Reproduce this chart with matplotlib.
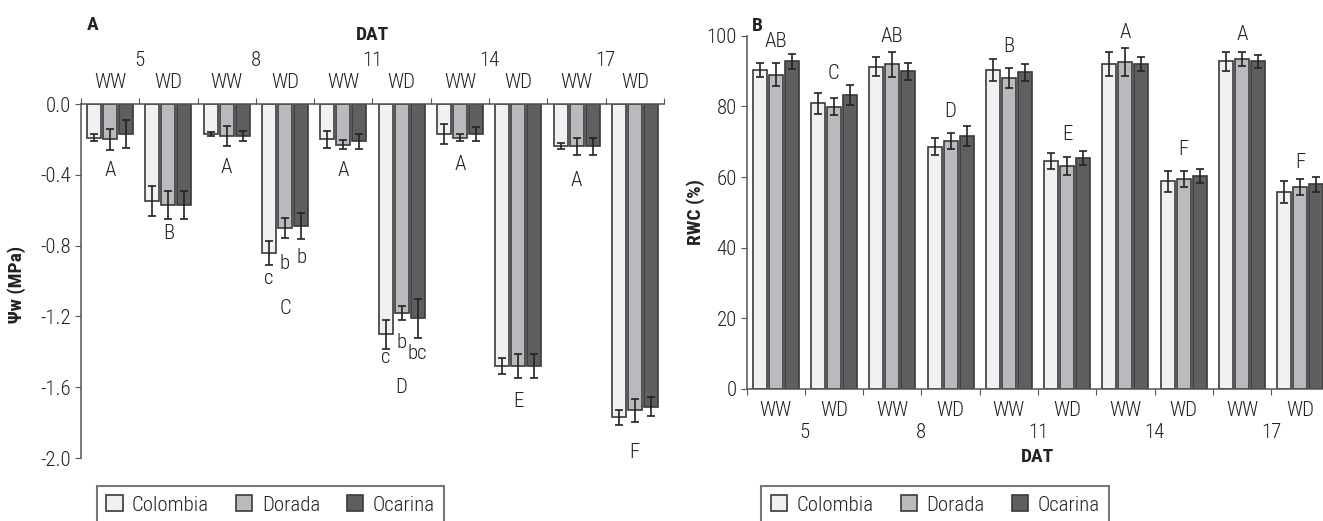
import numpy as np
import matplotlib
matplotlib.use("Agg")
import matplotlib.pyplot as plt
from matplotlib.patches import Patch
from matplotlib.ticker import FixedLocator, FuncFormatter

plt.rcParams['font.family'] = ['Roboto Condensed', 'DejaVu Sans']

# --- data ---
cultivars = ["Colombia", "Dorada", "Ocarina"]
colors = ["#f0f1f3", "#b9babe", "#5f5f61"]
treatments = ["WW", "WD"] * 5
days = ["5", "8", "11", "14", "17"]

# Panel A: leaf water potential (MPa)
psi_colombia = [-0.19, -0.55, -0.17, -0.84, -0.20, -1.30, -0.17, -1.48, -0.24, -1.77]
psi_dorada = [-0.20, -0.57, -0.18, -0.70, -0.23, -1.18, -0.19, -1.48, -0.24, -1.73]
psi_ocarina = [-0.17, -0.57, -0.18, -0.69, -0.21, -1.21, -0.17, -1.48, -0.24, -1.71]
psi_err_colombia = [0.02, 0.085, 0.013, 0.067, 0.05, 0.082, 0.056, 0.045, 0.017, 0.041]
psi_err_dorada = [0.06, 0.08, 0.055, 0.057, 0.026, 0.04, 0.021, 0.066, 0.049, 0.065]
psi_err_ocarina = [0.08, 0.08, 0.03, 0.072, 0.042, 0.11, 0.038, 0.066, 0.049, 0.054]
psi_group_letters = ["A", "B", "A", "C", "A", "D", "A", "E", "A", "F"]
psi_group_letter_y = [-0.373, -0.734, -0.357, -1.158, -0.373, -1.60, -0.339, -1.68, -0.43, -1.97]
# lowercase letters: (group, cultivar index, text, y)
psi_bar_letters = [(3, 0, "c", -0.985), (3, 1, "b", -0.90), (3, 2, "b", -0.87),
                   (5, 0, "c", -1.435), (5, 1, "b", -1.345), (5, 2, "bc", -1.41)]

# Panel B: relative water content (%)
rwc_colombia = [90.3, 80.9, 91.2, 68.6, 90.3, 64.6, 92.0, 58.8, 92.7, 55.8]
rwc_dorada = [89.0, 79.9, 91.9, 70.1, 88.0, 63.1, 92.5, 59.5, 93.4, 57.2]
rwc_ocarina = [92.7, 83.2, 89.9, 71.6, 89.6, 65.4, 92.0, 60.3, 92.7, 58.0]
rwc_err_colombia = [1.9, 3.0, 2.7, 2.4, 3.1, 2.3, 3.5, 3.0, 2.8, 3.1]
rwc_err_dorada = [3.2, 2.4, 3.6, 2.3, 2.9, 2.5, 4.0, 2.2, 2.0, 2.2]
rwc_err_ocarina = [2.0, 2.9, 2.4, 2.7, 2.3, 2.0, 1.9, 1.9, 1.9, 2.1]
rwc_group_letters = ["AB", "C", "AB", "D", "B", "E", "A", "F", "A", "F"]
rwc_group_letter_y = [98.3, 89.4, 99.7, 78.6, 96.9, 72.0, 101.0, 67.8, 100.2, 64.1]

TXT = "#222222"
EDGE = "#3a3a3a"
FS = 15
LW = 300  # light text weight, like the condensed face of the original
n = len(treatments)
centers = np.arange(n) + 0.5
offsets = [-0.275, 0.0, 0.275]
bw = 0.24


def draw_bars(ax, series, errs):
    for k in range(3):
        ax.bar(centers + offsets[k], series[k], width=bw, color=colors[k],
               edgecolor=EDGE, linewidth=1.2, zorder=2)
        ax.errorbar(centers + offsets[k], series[k], yerr=errs[k], fmt="none",
                    ecolor="#222222", elinewidth=1.2, capsize=2.6, capthick=1.2, zorder=3)


def cat_labels(ax, y_wd, y_day, y_dat):
    tr = ax.get_xaxis_transform()
    for i, t in enumerate(treatments):
        ax.text(centers[i], y_wd, t, transform=tr, ha="center", va="center",
                fontsize=FS, fontweight=LW, color=TXT, clip_on=False)
    for j, d in enumerate(days):
        ax.text(2 * j + 1, y_day, d, transform=tr, ha="center", va="center",
                fontsize=FS, fontweight=LW, color=TXT, clip_on=False)
    ax.text(5, y_dat, "DAT", transform=tr, ha="center", va="center",
            fontsize=14, fontweight="bold", color=TXT, clip_on=False)


fig = plt.figure(figsize=(13.23, 5.21), dpi=100)

# ---- Panel A ----
axA = fig.add_axes([81 / 1323, 1 - 458 / 521, 583 / 1323, 354 / 521])
draw_bars(axA, [psi_colombia, psi_dorada, psi_ocarina],
          [psi_err_colombia, psi_err_dorada, psi_err_ocarina])
axA.set_xlim(0, n)
axA.set_ylim(-2.0, 0.0)
for s in ["bottom", "right"]:
    axA.spines[s].set_visible(False)
for s in ["left", "top"]:
    axA.spines[s].set_color("#555555")
    axA.spines[s].set_linewidth(1.1)
axA.xaxis.tick_top()
axA.xaxis.set_major_locator(FixedLocator(np.arange(n + 1)))
axA.tick_params(axis="x", which="major", length=4, direction="out", color="#555555",
                labeltop=False, labelbottom=False)
axA.yaxis.set_major_locator(FixedLocator(np.arange(-2.0, 0.01, 0.4)))
axA.yaxis.set_major_formatter(FuncFormatter(lambda v, p: f"{abs(v):.1f}" if abs(v) < 1e-9 else f"{v:.1f}"))
axA.tick_params(axis="y", length=4, direction="out", color="#555555", labelsize=FS,
                labelcolor=TXT, pad=3)
for t in axA.get_yticklabels():
    t.set_fontweight(LW)
cat_labels(axA, 1 + 21 / 354, 1 + 44 / 354, 1 + 69 / 354)
for i, (lt, ly) in enumerate(zip(psi_group_letters, psi_group_letter_y)):
    axA.text(centers[i], ly, lt, ha="center", va="center", fontsize=FS, fontweight=LW, color=TXT)
for g, k, lt, ly in psi_bar_letters:
    axA.text(centers[g] + offsets[k], ly, lt, ha="center", va="center", fontsize=FS,
             fontweight=LW, color=TXT)
fig.text(17 / 1323, 1 - 284 / 521, "\u03a8w (MPa)", rotation=90, ha="center", va="center",
         fontsize=14, fontweight="bold", color=TXT)
fig.text(93 / 1323, 1 - 25 / 521, "A", ha="center", va="center", fontsize=14,
         fontweight="bold", color=TXT)

# ---- Panel B ----
axB = fig.add_axes([746.5 / 1323, 1 - 389 / 521, 583 / 1323, 353.3 / 521])
draw_bars(axB, [rwc_colombia, rwc_dorada, rwc_ocarina],
          [rwc_err_colombia, rwc_err_dorada, rwc_err_ocarina])
axB.set_xlim(0, n)
axB.set_ylim(0, 100)
for s in ["top", "right"]:
    axB.spines[s].set_visible(False)
for s in ["left", "bottom"]:
    axB.spines[s].set_color("#555555")
    axB.spines[s].set_linewidth(1.1)
axB.xaxis.set_major_locator(FixedLocator(np.arange(n + 1)))
axB.tick_params(axis="x", which="major", length=4, direction="out", color="#555555",
                labelbottom=False)
axB.yaxis.set_major_locator(FixedLocator(np.arange(0, 101, 20)))
axB.tick_params(axis="y", length=4, direction="out", color="#555555", labelsize=FS,
                labelcolor=TXT, pad=3)
for t in axB.get_yticklabels():
    t.set_fontweight(LW)
cat_labels(axB, -21 / 353.3, -44 / 353.3, -68 / 353.3)
for i, (lt, ly) in enumerate(zip(rwc_group_letters, rwc_group_letter_y)):
    axB.text(centers[i], ly, lt, ha="center", va="center", fontsize=FS, fontweight=LW,
             color=TXT, clip_on=False)
fig.text(696 / 1323, 1 - 212 / 521, "RWC (%)", rotation=90, ha="center", va="center",
         fontsize=14, fontweight="bold", color=TXT)
fig.text(757 / 1323, 1 - 26 / 521, "B", ha="center", va="center", fontsize=14,
         fontweight="bold", color=TXT)

# ---- legends ----
handles = [Patch(facecolor=c, edgecolor=EDGE, linewidth=1.2) for c in colors]
for lx in [97 / 1323, 761.5 / 1323]:
    leg = fig.legend(handles, cultivars, loc="upper left", bbox_to_anchor=(lx, 1 - 486 / 521),
                     ncol=3, prop={"size": FS, "weight": LW}, frameon=True, fancybox=False,
                     handlelength=0.78, handleheight=0.8, handletextpad=0.45,
                     columnspacing=1.3, borderpad=0.45, borderaxespad=0)
    leg.get_frame().set_edgecolor("#555555")
    leg.get_frame().set_linewidth(1.5)
    for t in leg.get_texts():
        t.set_color(TXT)

fig.savefig("out.png", dpi=100)
